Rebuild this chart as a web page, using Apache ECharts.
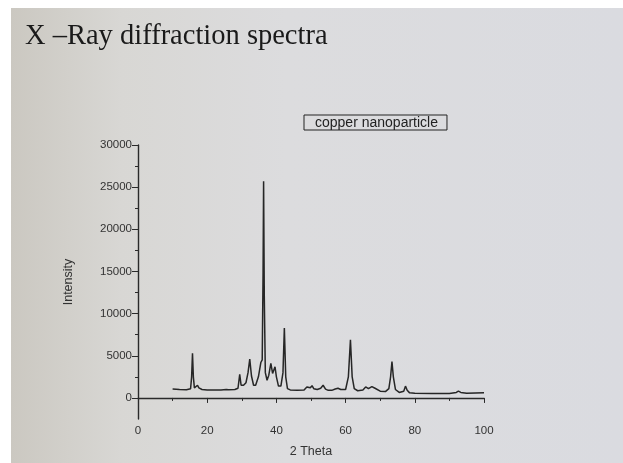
<!DOCTYPE html>
<html>
<head>
<meta charset="utf-8">
<title>X-Ray diffraction spectra</title>
<script src="https://cdn.jsdelivr.net/npm/echarts@6/dist/echarts.min.js"></script>
<style>
    html, body { margin: 0; padding: 0; background: #fff; }
    #wrap { position: relative; width: 623px; height: 463px; overflow: hidden; }
    #paper {
        position: absolute; left: 11px; top: 8px; right: 0; bottom: 0;
        background: linear-gradient(to right, #cbc8c1 0%, #d8d7d4 18%, #dcdcde 45%, #dadbe0 100%);
    }
    #main { position: absolute; left: 0; top: 0; width: 623px; height: 463px; }
</style>
</head>
<body>
<div id="wrap">
    <div id="paper"></div>
    <div id="main"></div>
</div>
<script>
// 2 Theta / intensity
var twoTheta = [10, 12, 14, 15.2, 15.5, 15.75, 16.0, 16.3, 16.8, 17.2, 17.6, 18.5, 20, 22, 24, 25.5, 25.8, 26.2, 28,
    28.9, 29.4, 29.8, 30.5, 31.2, 31.8, 32.3, 32.8, 33.4, 34, 34.8, 35.5, 35.9, 36.15, 36.3, 36.5, 36.8, 37.3,
    37.8, 38.4, 38.9, 39.2, 39.6, 40.0, 40.6, 41.3, 41.9, 42.3, 42.7, 43.2, 44, 46, 48, 48.8, 49.3, 49.8, 50.3,
    50.8, 51.8, 52.8, 53.5, 54.2, 55, 56, 57, 57.8, 58.6, 60, 60.8, 61.4, 61.9, 62.5, 63.5, 65, 65.8, 66.6, 67.6,
    68.5, 70, 71.5, 72.5, 73, 73.4, 73.8, 74.4, 75.5, 76.8, 77.3, 77.8, 78.5, 80, 85, 90, 92, 92.6, 93.3, 95, 100];
var intensity = [1050, 1000, 980, 1100, 2500, 5300, 2500, 1200, 1350, 1500, 1200, 1000, 950, 930, 950, 1000, 1080, 980, 1000,
    1150, 2800, 1500, 1500, 1800, 3000, 4600, 2600, 1500, 1500, 2500, 4200, 4500, 15000, 25700, 12000, 3000, 2100,
    2700, 4100, 2900, 3000, 3700, 2500, 1400, 1400, 3000, 8300, 2500, 1100, 950, 900, 950, 1300, 1450, 1200, 1450,
    1100, 1000, 1150, 1500, 1050, 900, 900, 1050, 1150, 1000, 1000, 2500, 6900, 2500, 1100, 850, 950, 1300, 1100, 1350,
    1150, 800, 750, 1100, 2500, 4300, 2500, 1000, 650, 800, 1400, 900, 600, 550, 520, 520, 650, 800, 650, 550, 600];

var yMajor = [0, 5000, 10000, 15000, 20000, 25000, 30000];
var yMinor = [2500, 7500, 12500, 17500, 22500, 27500];
var seriesName = 'copper nanoparticle';

var points = twoTheta.map(function (t, i) { return [t, intensity[i]]; });

var axisColor = '#2a2a2a';
var sans = 'Liberation Sans, Arial, sans-serif';

var myChart = echarts.init(document.getElementById('main'));
var option = {
    backgroundColor: 'transparent',
    animation: false,
    title: {
        text: 'X \u2013Ray diffraction spectra',
        left: 20,
        top: 17,
        textStyle: { fontFamily: 'Liberation Serif, Times New Roman, serif', fontWeight: 'normal', fontSize: 28.5, color: '#1a1a1a' }
    },
    legend: {
        data: [seriesName],
        left: 304,
        top: 115,
        icon: 'none',
        itemWidth: 0,
        itemGap: 0,
        padding: [1, 9, 0, 6],
        borderColor: '#222',
        borderWidth: 1,
        textStyle: { color: '#222', fontSize: 14, fontFamily: sans }
    },
    grid: { left: 138, right: 139, top: 145, bottom: 37 },
    xAxis: {
        type: 'value',
        min: 0,
        max: 100,
        interval: 20,
        name: '2 Theta',
        nameLocation: 'middle',
        nameGap: 26,
        nameTextStyle: { color: '#333', fontSize: 12.5, fontFamily: sans },
        axisLine: { lineStyle: { color: axisColor, width: 1.4 } },
        axisTick: { length: 5, lineStyle: { color: axisColor } },
        minorTick: { show: true, splitNumber: 2, length: 3, lineStyle: { color: axisColor } },
        axisLabel: { margin: 6, color: '#333', fontSize: 11.5, fontFamily: sans },
        splitLine: { show: false }
    },
    yAxis: [{
        type: 'value',
        min: -2500,
        max: 30000,
        name: 'Intensity',
        nameLocation: 'middle',
        nameGap: 63,
        nameTextStyle: { color: '#333', fontSize: 12.5, fontFamily: sans },
        axisLine: { show: true, onZero: false, lineStyle: { color: axisColor, width: 1.4 } },
        axisTick: { show: true, length: 6, customValues: yMajor, lineStyle: { color: axisColor } },
        axisLabel: {
            margin: 6, customValues: yMajor, color: '#333', fontSize: 11.5, fontFamily: sans,
            formatter: function (v) { return String(v); }
        },
        splitLine: { show: false }
    }, {
        type: 'value',
        position: 'left',
        min: -2500,
        max: 30000,
        axisLine: { show: false },
        axisTick: { show: true, length: 3, customValues: yMinor, lineStyle: { color: axisColor } },
        axisLabel: { show: false },
        splitLine: { show: false }
    }],
    series: [{
        name: seriesName,
        type: 'line',
        data: points,
        yAxisIndex: 0,
        showSymbol: false,
        symbol: 'none',
        lineStyle: { color: '#262626', width: 1.5 }
    }]
};
myChart.setOption(option);
</script>
</body>
</html>
